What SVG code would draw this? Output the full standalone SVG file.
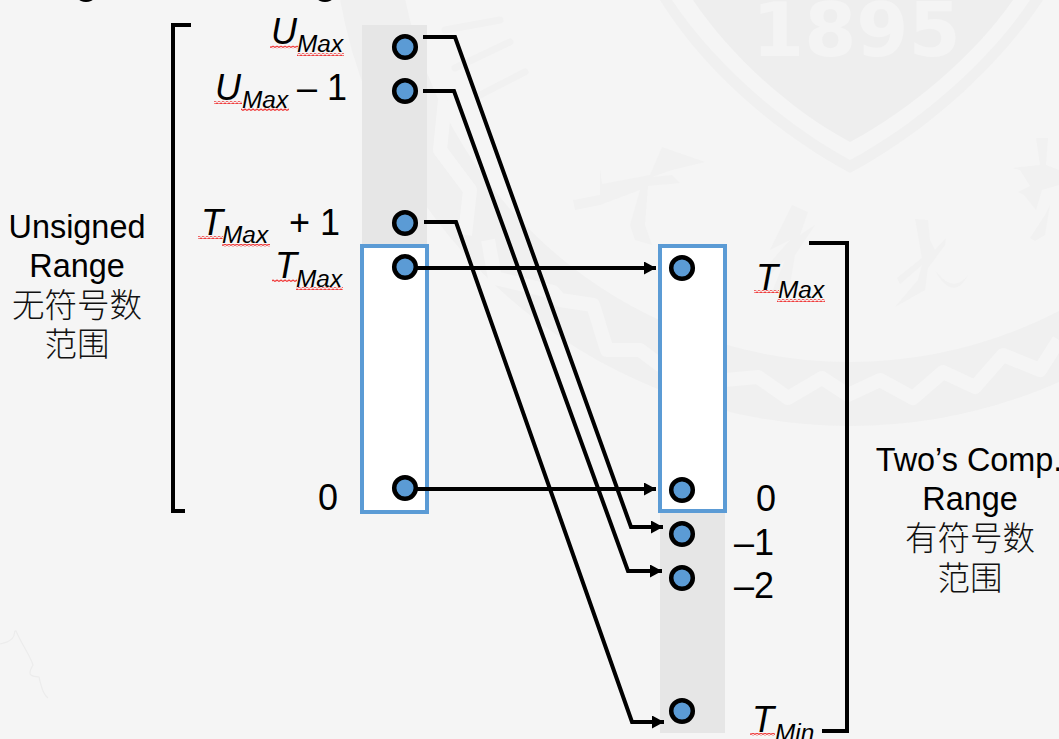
<svg xmlns="http://www.w3.org/2000/svg" width="1059" height="739" viewBox="0 0 1059 739">
<defs>
<style>
text{font-family:"Liberation Sans","Noto Sans CJK SC",sans-serif;fill:#000}
.lab{font-size:32.400px;text-anchor:middle}
.cjk{font-size:32.500px;text-anchor:middle;font-family:"Noto Sans CJK SC",sans-serif;font-weight:300;fill:#111}
.n{font-size:36px}
.v{font-size:36px;font-style:italic}
.s{font-size:24.400px;font-style:italic}
.dot{fill:#5b9bd5;stroke:#000;stroke-width:4.500}
.gray{fill:#e6e6e6}
.box{fill:#fff;stroke:#5b9bd5;stroke-width:4}
.con{fill:none;stroke:#000;stroke-width:4;stroke-linejoin:miter}
.br{fill:none;stroke:#000;stroke-width:4}
.wm{fill:#f1f1f1}
.wl{fill:none;stroke:#f1f1f1;stroke-linecap:round}
</style>
<marker id="ah" markerUnits="userSpaceOnUse" markerWidth="13" markerHeight="14" refX="12" refY="6.500" orient="auto"><path d="M0 0L12 6.500L0 13z" fill="#000"/></marker>
<pattern id="wave" patternUnits="userSpaceOnUse" width="4" height="3"><path d="M0 2L1 1L3 2.500L4 1.500" fill="none" stroke="#f03a3a" stroke-width="1.100"/></pattern>
</defs>
<rect width="1059" height="739" fill="#f5f5f5"/>
<g id="watermark">
<circle cx="850" cy="-92" r="486" fill="none" stroke="#f0f0f0" stroke-width="64"/>
<path d="M465 235L470 190L440 150L445 100M488 240L495 278L553 292L560 300L593 305L607 350L640 350L660 365L725 380L758 377L788 398L822 378L848 395L880 380L913 398L943 372L975 387L1003 355L1040 370L1059 340" fill="none" stroke="#f5f5f5" stroke-width="14" stroke-linejoin="round"/>
<path d="M660 0C700 65 770 130 850 173C930 130 1000 65 1043 0z" fill="#f0f0f0"/>
<path d="M672 0C712 60 780 122 850 160C920 122 990 60 1030 0z" fill="#f5f5f5"/>
<path d="M693 0C730 55 790 110 850 142C910 110 975 55 1013 0z" fill="#eeeeee"/>
<text x="752" y="56" font-size="75" font-weight="700" style="fill:#f4f4f4;font-family:'DejaVu Sans',sans-serif">1895</text>
<path class="wm" d="M600 168L602 184L650 175L662 147L705 162L672 170L652 177L672 175L680 183L648 186L645 225L652 245L635 240L630 225L640 190L600 205L575 210L573 200L600 195z"/>
<path class="wm" d="M915 219L928 220L930 240L935 250L946 238L945 245L928 268L925 290L895 307L918 280L922 265L900 284L897 278L922 258z"/>
<path class="wm" d="M935 270C950 290 960 285 968 275C958 295 945 290 935 270z"/>
<path class="wm" d="M1036 138L1048 138L1046 165L1059 170V185L1042 190L1036 210L1024 195L1018 192L1030 186L1020 170L1012 168L1040 165z"/>
<path class="wm" d="M1045 215L1050 205L1045 235L1035 241L1030 238z"/>
<path class="wm" d="M792 205L808 212L800 235L815 225L795 255L790 285L772 292L785 260L765 280L768 265L790 240L770 250z"/>
<path class="wl" stroke-width="7" d="M445 30L500 20M455 68L510 42M480 95L525 72"/>
<path d="M0 644C20 640 12 630 16 631C22 645 30 655 33 665C25 678 35 676 39 677C42 690 44 695 48 698" fill="none" stroke="#ececec" stroke-width="1.200"/>
</g>
<g id="title-clip"><ellipse cx="86" cy="-1" rx="7" ry="3"/><ellipse cx="325" cy="-1" rx="7" ry="3"/></g>
<g id="bands">
<rect class="gray" x="362" y="25" width="65" height="221"/>
<rect class="gray" x="660" y="511" width="65" height="222"/>
<rect class="box" x="362" y="246" width="65" height="266"/>
<rect class="box" x="660" y="246" width="65" height="265"/>
</g>
<g id="connectors">
<path class="con" marker-end="url(#ah)" d="M423 37H455L631 527H663"/>
<path class="con" marker-end="url(#ah)" d="M423 91H454L628 571H662"/>
<path class="con" marker-end="url(#ah)" d="M424 222H456L632 722H664"/>
<path class="con" marker-end="url(#ah)" d="M405 268H656"/>
<path class="con" marker-end="url(#ah)" d="M405 489H656"/>
</g>
<g id="unsigned-bracket"><path class="br" d="M191 25H173V511H185"/></g>
<g id="signed-bracket"><path class="br" d="M809 243H847V731H822"/></g>
<g id="u-max"><circle class="dot" cx="405" cy="47" r="10.800"/>
<rect x="270" y="45.500" width="28" height="3" fill="url(#wave)"/><rect x="297" y="53" width="47" height="3" fill="url(#wave)"/>
<text class="v" x="271" y="44">U</text><text class="s" x="297" y="52">Max</text></g>
<g id="u-max-1"><circle class="dot" cx="405" cy="91" r="10.800"/>
<rect x="214" y="101" width="28" height="3" fill="url(#wave)"/><rect x="241" y="108" width="48" height="3" fill="url(#wave)"/>
<text class="v" x="215" y="100">U</text><text class="s" x="242" y="108">Max</text><text class="n" x="297" y="100">– 1</text></g>
<g id="t-max-1"><circle class="dot" cx="405" cy="223" r="10.800"/>
<rect x="198" y="236" width="25" height="3" fill="url(#wave)"/><rect x="222" y="244" width="48" height="3" fill="url(#wave)"/>
<text class="v" x="201" y="235">T</text><text class="s" x="222" y="243">Max</text><text class="n" x="289" y="235">+ 1</text></g>
<g id="t-max"><circle class="dot" cx="405" cy="267" r="10.800"/>
<rect x="272" y="279" width="25" height="3" fill="url(#wave)"/><rect x="296" y="287" width="47" height="3" fill="url(#wave)"/>
<text class="v" x="275" y="278">T</text><text class="s" x="296" y="287">Max</text></g>
<g id="u-zero"><circle class="dot" cx="405" cy="488" r="10.800"/><text class="n" x="318" y="510">0</text></g>
<g id="s-t-max"><circle class="dot" cx="682" cy="268" r="10.800"/>
<rect x="754" y="290" width="25" height="3" fill="url(#wave)"/><rect x="777" y="299" width="48" height="3" fill="url(#wave)"/>
<text class="v" x="756" y="290">T</text><text class="s" x="778" y="298">Max</text></g>
<g id="s-zero"><circle class="dot" cx="682" cy="490" r="10.800"/><text class="n" x="756" y="511">0</text></g>
<g id="s-m1"><circle class="dot" cx="682" cy="534" r="10.800"/><text class="n" x="734" y="555">–1</text></g>
<g id="s-m2"><circle class="dot" cx="682" cy="578" r="10.800"/><text class="n" x="734" y="598">–2</text></g>
<g id="s-t-min"><circle class="dot" cx="682" cy="711" r="10.800"/>
<rect x="750" y="733" width="25" height="3" fill="url(#wave)"/>
<text class="v" x="752" y="732">T</text><text class="s" x="775" y="741">Min</text></g>
<g id="unsigned-label">
<text class="lab" x="77" y="238">Unsigned</text><text class="lab" x="77" y="277">Range</text>
<text class="cjk" x="77" y="317">无符号数</text><text class="cjk" x="77" y="356">范围</text></g>
<g id="signed-label">
<text class="lab" x="969" y="471">Two’s Comp.</text><text class="lab" x="970" y="510">Range</text>
<text class="cjk" x="970" y="550">有符号数</text><text class="cjk" x="970" y="590">范围</text></g>
</svg>
